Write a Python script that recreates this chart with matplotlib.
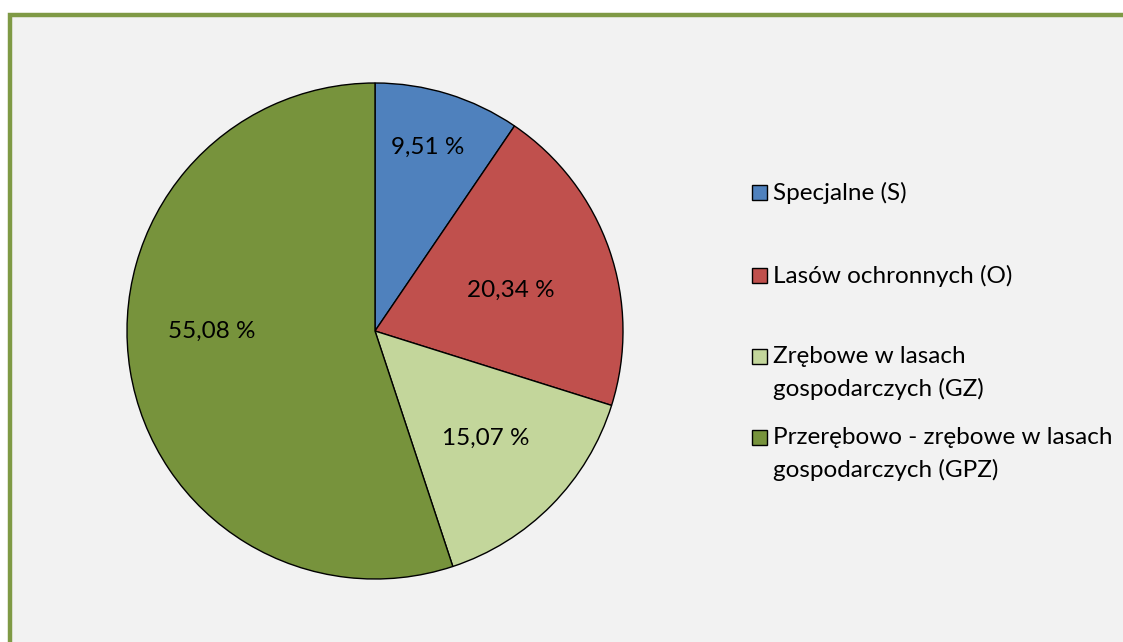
import numpy as np
import matplotlib
matplotlib.use('Agg')
import matplotlib.pyplot as plt
from matplotlib.patches import Rectangle

# data
categories = ['Specjalne (S)', 'Lasów ochronnych (O)',
              'Zrębowe w lasach\ngospodarczych (GZ)',
              'Przerębowo - zrębowe w lasach\ngospodarczych (GPZ)']
shares = [9.51, 20.34, 15.07, 55.08]
share_labels = ['9,51 %', '20,34 %', '15,07 %', '55,08 %']
colors = ['#4F81BD', '#C0504D', '#C3D69B', '#77933C']

plt.rcParams['font.family'] = ['Lato', 'DejaVu Sans']
font_size = 17.5

W, H = 1123, 642
fig = plt.figure(figsize=(W / 100, H / 100), dpi=100)
fig.patch.set_facecolor('white')

# grey panel with green frame (left and top visible)
fig.patches.append(Rectangle((10 / W, -0.1), 1.2, (H - 15) / H + 0.1,
                             transform=fig.transFigure, facecolor='#F2F2F2',
                             edgecolor='#7F9A45', linewidth=3.2, zorder=-5))

# pie axes
cx, cy, r = 375, 331, 248
ax = fig.add_axes([(cx - r) / W, (H - cy - r) / H, 2 * r / W, 2 * r / H])
ax.set_facecolor('none')
wedges, _ = ax.pie(shares, colors=colors, startangle=90, counterclock=False,
                   radius=1.0, wedgeprops={'edgecolor': 'black', 'linewidth': 1.0})
ax.set_xlim(-1, 1)
ax.set_ylim(-1, 1)
ax.set_aspect('equal')
ax.axis('off')

# label distances from centre (fraction of radius), like excel best fit
label_dist = [0.77, 0.57, 0.62, 0.66]
label_angle_shift = [1.0, -2.5, 0.5, -9.1]
for w, lbl, d, s in zip(wedges, share_labels, label_dist, label_angle_shift):
    ang = np.deg2rad((w.theta1 + w.theta2) / 2 + s)
    ax.text(d * np.cos(ang), d * np.sin(ang), lbl, ha='center', va='center',
            fontsize=font_size, color='black')

# legend, drawn by hand
leg_x = 752
leg_rows = [193, 276, 357, 438]
for cat, col, y in zip(categories, colors, leg_rows):
    fig.patches.append(Rectangle((leg_x / W, (H - y - 7) / H), 15 / W, 15 / H,
                                 transform=fig.transFigure, facecolor=col,
                                 edgecolor='black', linewidth=1.0))
    fig.text((leg_x + 21) / W, (H - y + 11) / H, cat, ha='left', va='top',
             fontsize=font_size, linespacing=1.6,
             transform=fig.transFigure)

plt.savefig('out.png', dpi=100, facecolor=fig.get_facecolor())
plt.close()
